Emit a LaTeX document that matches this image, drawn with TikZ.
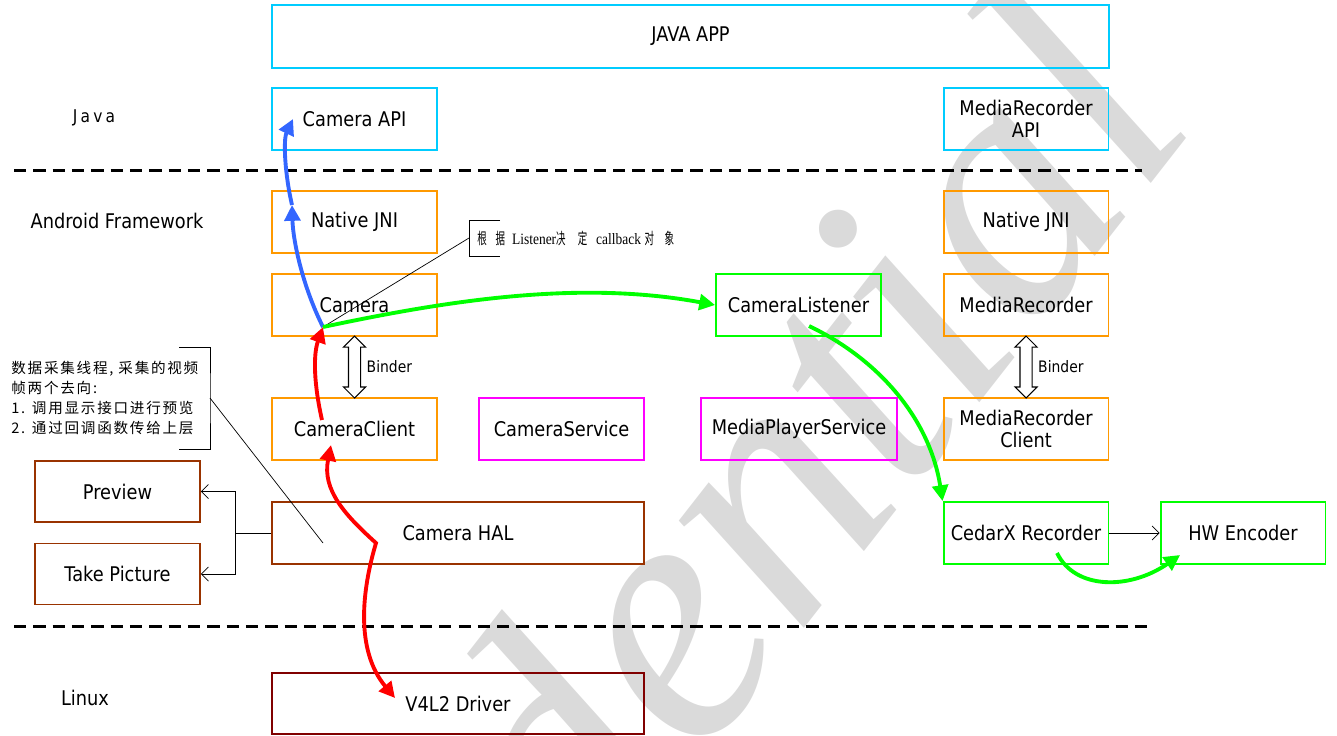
\documentclass[tikz,border=0pt]{standalone}
\usepackage{fontspec}
\setmainfont{DejaVu Sans}[FakeStretch=0.88]
\newfontfamily\spaced{DejaVu Sans}[FakeStretch=0.88, LetterSpace=18]
\newfontfamily\cjk{Noto Sans CJK SC}[LetterSpace=12]
\newfontfamily\cjknarrow{Noto Sans CJK SC}[FakeStretch=0.6]
\newfontfamily\notefont{Liberation Serif}[FakeStretch=0.85]
\newfontfamily\markfont{Liberation Serif}
\usetikzlibrary{arrows.meta, shapes.arrows, positioning, calc}
\definecolor{apicyan}{RGB}{0,204,255}
\definecolor{fworange}{RGB}{255,153,0}
\definecolor{lsngreen}{RGB}{0,255,0}
\definecolor{svcpink}{RGB}{255,0,255}
\definecolor{halbrown}{RGB}{153,51,0}
\definecolor{drvred}{RGB}{128,0,0}
\definecolor{flowblue}{RGB}{51,102,255}
\definecolor{flowred}{RGB}{255,0,0}
\definecolor{wmgray}{RGB}{218,218,218}
\begin{document}
\begin{tikzpicture}[x=0.02cm, y=-0.02cm, font=\fontsize{11.5}{12.5}\selectfont,
    >={Triangle[length=9pt, width=9pt]},
    box/.style={rectangle, draw=#1, line width=1.1pt, minimum width=3.3cm,
                minimum height=1.24cm, inner sep=0pt, align=center},
    widebox/.style={box=#1, minimum width=7.44cm},
    sep/.style={line width=1.7pt, dash pattern=on 7pt off 4pt},
    flow/.style={line width=2.2pt, draw=#1},
    feed/.style={thin, -{Straight Barb[length=4pt, width=8pt]}},
    binder/.style={draw, fill=white, double arrow, rotate=90, minimum height=1.24cm,
                   minimum width=0cm, double arrow head extend=0.1cm,
                   inner xsep=0pt, inner ysep=0.11cm, line width=0.6pt}]
    \useasboundingbox (0,0) rectangle (1337,735);

    % Watermark
    \node[rotate=52, anchor=base west, text=wmgray, inner sep=0pt,
          font=\markfont\itshape\fontsize{204}{204}\selectfont] (mark) at (97,1533) {Confidential};

    % Java
    \node[box=apicyan, minimum width=16.74cm, minimum height=1.26cm] (app) at (690.5,36.5) {JAVA APP};
    \node[box=apicyan] (camapi) at (354.5,119) {Camera API};
    \node[box=apicyan] (mrapi) at (1026,119) {MediaRecorder\\API};

    % Android Framework
    \node[box=fworange] (camjni) at (354.5,222) {Native JNI};
    \node[box=fworange] (mrjni) at (1026,222) {Native JNI};
    \node[box=fworange] (camera) at (354.5,305) {Camera};
    \node[box=lsngreen] (listener) at (798.5,305) {CameraListener};
    \node[box=fworange] (mrec) at (1026,305) {MediaRecorder};
    \node[box=fworange] (client) at (354.5,429) {CameraClient};
    \node[box=svcpink] (camsvc) at (561.5,429) {CameraService};
    \node[box=svcpink, minimum width=3.92cm] (mpsvc) at (799,429) {MediaPlayerService};
    \node[box=fworange] (mrclient) at (1026,429) {MediaRecorder\\Client};

    % HAL
    \node[box=halbrown, minimum height=1.22cm] (preview) at (117.5,491.5) {Preview};
    \node[box=halbrown, minimum height=1.22cm] (takepic) at (117.5,574) {Take Picture};
    \node[widebox=halbrown] (hal) at (458,533) {Camera HAL};
    \node[box=lsngreen] (cedarx) at (1026,533) {CedarX Recorder};
    \node[box=lsngreen] (hwenc) at (1243,533) {HW Encoder};

    % Linux
    \node[widebox=drvred, minimum height=1.22cm] (v4l2) at (458,703.5) {V4L2 Driver};

    % Layer labels
    \node[font=\spaced] (javalbl) at (94,118) {Java};
    \node (fwlbl) at (117,221) {Android Framework};
    \node (linuxlbl) at (85,698) {Linux};
    \draw[sep] (14,170) -- (1142,170);
    \draw[sep] (14,626) -- (1152,626);

    % Binder
    \node[binder] (bindL) at ($(camera.south)!0.5!(client.north)$) {};
    \node[binder] (bindR) at ($(mrec.south)!0.5!(mrclient.north)$) {};
    \node[anchor=west, font=\fontsize{9}{10}\selectfont] (bindLlbl) at ([xshift=0.12cm]bindL.center) {Binder};
    \node[anchor=west, font=\fontsize{9}{10}\selectfont] (bindRlbl) at ([xshift=0.12cm]bindR.center) {Binder};

    % Frame output
    \draw (hal.west) -- ++(-36,0) coordinate (fork);
    \draw[feed] (fork) |- (preview.east);
    \draw[feed] (fork) |- (takepic.east);
    \draw[feed] (cedarx) -- (hwenc);

    % Notes
    \node[anchor=west, inner sep=0pt, font=\notefont\fontsize{9}{10}\selectfont] (cbnote) at (477,238)
        {{\cjknarrow 根\hspace{5pt}据}\hspace{4pt}Listener{\cjknarrow 决\hspace{7pt}定}\hspace{5pt}callback\hspace{2pt}{\cjknarrow 对\hspace{6pt}象}};
    \draw[thin] ([shift={(23,-18)}]cbnote.west) -- ++(-31,0) -- ++(0,36) -- ++(31,0);
    \node[anchor=west, align=left, inner sep=0pt, font=\cjk\fontsize{8.3}{11.3}\selectfont] (framenote) at (11,398)
        {数据采集线程, 采集的视频\\帧两个去向:\\1. 调用显示接口进行预览\\2. 通过回调函数传给上层};
    \coordinate (notejoint) at (210,398);
    \draw[thin] (179,347) -| (notejoint) |- (179,449);

    % Flow points
    \coordinate (hub) at (323,327);
    \coordinate (jnipt) at (292,205);
    \coordinate (apipt) at (293,119);
    \coordinate (clientpt) at (322,420);
    \coordinate (clienttip) at (331,445);
    \coordinate (halkink) at (376,543);
    \coordinate (halpt) at (323,543);
    \coordinate (drvpt) at (395,698);
    \coordinate (lsnpt) at (809,326);
    \coordinate (cedarpt) at (1057,553);
    \coordinate (hwpt) at (1180,555);
    \coordinate (cbjoint) at ([shift={(-8,0)}]cbnote.west);

    \draw[thin] (cbjoint) -- (hub);
    \draw[thin] (notejoint) -- (halpt);

    % Flows
    \draw[flow=flowblue, ->] (hub) .. controls (302,285) and (293,240) .. (jnipt);
    \draw[flow=flowblue, ->] (jnipt) .. controls (285,175) and (283,140) .. (apipt);
    \draw[flow=flowred, ->] (clientpt) .. controls (314,385) and (313,355) .. (hub);
    \draw[flow=flowred, <->] (clienttip) .. controls (322,490) and (345,515) .. (halkink)
        .. controls (362,590) and (355,650) .. (drvpt);
    \draw[flow=lsngreen, ->] (hub) .. controls (450,300) and (580,280) .. (listener.west);
    \draw[flow=lsngreen, ->] (lsnpt) .. controls (880,360) and (930,420) .. (cedarx.north west);
    \draw[flow=lsngreen, ->] (cedarpt) .. controls (1075,590) and (1130,590) .. (hwpt);
\end{tikzpicture}
\end{document}
